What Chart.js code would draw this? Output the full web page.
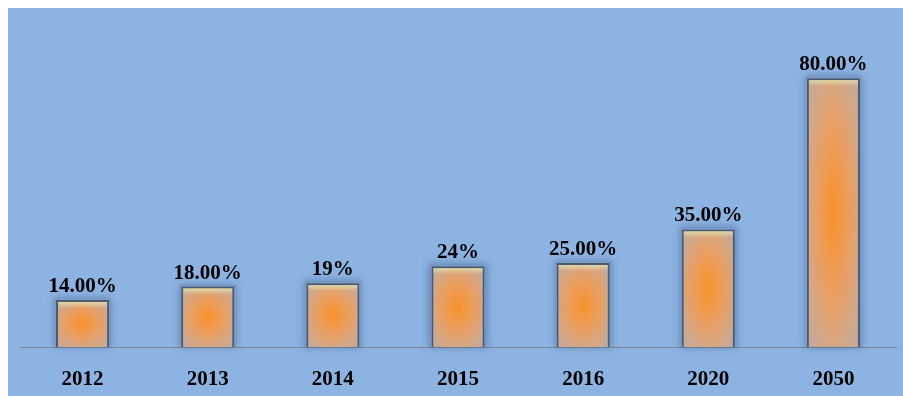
<!DOCTYPE html>
<html>
<head>
<meta charset="utf-8">
<script src="https://cdn.jsdelivr.net/npm/chart.js@4/dist/chart.umd.min.js"></script>
<style>
  html, body { margin: 0; padding: 0; background: #ffffff; }
  canvas { display: block; }
</style>
</head>
<body>
<canvas id="c" width="903" height="396"></canvas>
<script>
// Years shown along the bottom
const years = ['2012', '2013', '2014', '2015', '2016', '2020', '2050'];
// Share for each year, in percent
const shares = [14, 18, 19, 24, 25, 35, 80];
// Text printed above each bar
const shareLabels = ['14.00%', '18.00%', '19%', '24%', '25.00%', '35.00%', '80.00%'];

const LABEL_FONT = 'bold 21px "Liberation Serif", "Times New Roman", serif';

// Stretchable radial glow used as the bar fill (orange core fading to tan-grey)
const glowTile = document.createElement('canvas');
glowTile.width = 200; glowTile.height = 200;
(function () {
  const g = glowTile.getContext('2d');
  const rg = g.createRadialGradient(100, 100, 0, 100, 100, 142);
  rg.addColorStop(0.00, '#f7912a');
  rg.addColorStop(0.40, '#eb9e5e');
  rg.addColorStop(0.75, '#d2a88a');
  rg.addColorStop(1.00, '#bca9a2');
  g.fillStyle = rg;
  g.fillRect(0, 0, 200, 200);
})();

function barFill(context) {
  const chart = context.chart;
  const xs = chart.scales.x, ys = chart.scales.y;
  if (!xs || !ys || context.dataIndex === undefined) return '#eb9e5e';
  const ctx = chart.ctx;
  const pat = ctx.createPattern(glowTile, 'no-repeat');
  const cx = xs.getPixelForValue(context.dataIndex);
  const w = xs.width / years.length * 0.424;
  const top = ys.getPixelForValue(shares[context.dataIndex]);
  const bottom = ys.getPixelForValue(0);
  const h = Math.max(1, bottom - top);
  pat.setTransform(new DOMMatrix().translate(cx - w / 2, top).scale(w / 200, h / 200));
  return pat;
}

const backdrop = {
  id: 'backdrop',
  beforeDraw(chart) {
    const ctx = chart.ctx;
    ctx.save();
    ctx.fillStyle = '#ffffff';
    ctx.fillRect(0, 0, chart.width, chart.height);
    ctx.fillStyle = '#8db3e2';
    ctx.fillRect(8, 8, chart.width - 8, chart.height - 8);
    ctx.restore();
  }
};

// Soft bluish halo behind each bar
const halo = {
  id: 'halo',
  beforeDatasetsDraw(chart) {
    const ctx = chart.ctx;
    const meta = chart.getDatasetMeta(0);
    ctx.save();
    meta.data.forEach(bar => {
      const p = bar.getProps(['x', 'y', 'base', 'width'], true);
      ctx.shadowColor = 'rgba(45,75,125,0.5)';
      ctx.shadowBlur = 7;
      ctx.fillStyle = '#7a9ac6';
      ctx.fillRect(p.x - p.width / 2 - 2, p.y - 2, p.width + 4, p.base - p.y + 2);
    });
    ctx.restore();
  }
};

// Pale highlight under the top edge, plus the value labels
const barText = {
  id: 'barText',
  afterDatasetsDraw(chart) {
    const ctx = chart.ctx;
    const meta = chart.getDatasetMeta(0);
    ctx.save();
    meta.data.forEach((bar, i) => {
      const p = bar.getProps(['x', 'y', 'base', 'width'], true);
      const l = p.x - p.width / 2 + 2, r = p.x + p.width / 2 - 2;
      const lg = ctx.createLinearGradient(0, p.y + 2, 0, p.y + 8);
      lg.addColorStop(0, 'rgba(228,228,172,0.8)');
      lg.addColorStop(1, 'rgba(228,228,172,0)');
      ctx.fillStyle = lg;
      ctx.fillRect(l, p.y + 2, r - l, 6);

      ctx.fillStyle = '#000000';
      ctx.font = LABEL_FONT;
      ctx.textAlign = 'center';
      ctx.textBaseline = 'alphabetic';
      ctx.fillText(shareLabels[i], p.x, p.y - 8);
    });
    ctx.restore();
  }
};

new Chart(document.getElementById('c'), {
  type: 'bar',
  data: {
    labels: years,
    datasets: [{
      data: shares,
      backgroundColor: barFill,
      borderColor: '#4a5a70',
      borderWidth: { top: 2, left: 2, right: 2, bottom: 0 },
      borderSkipped: 'bottom',
      categoryPercentage: 1,
      barPercentage: 0.424
    }]
  },
  options: {
    responsive: false,
    animation: false,
    devicePixelRatio: 1,
    layout: { padding: { left: 20, right: 7, top: 11, bottom: 0 } },
    plugins: {
      legend: { display: false },
      tooltip: { enabled: false }
    },
    scales: {
      x: {
        grid: { display: false },
        border: { display: true, color: '#7d8791', width: 1 },
        ticks: {
          color: '#000000',
          padding: 12,
          font: { family: '"Liberation Serif", "Times New Roman", serif', size: 21, weight: 'bold' }
        },
        afterFit(scale) { scale.height = 49; }
      },
      y: {
        display: false,
        min: 0,
        max: 100
      }
    }
  },
  plugins: [backdrop, halo, barText]
});
</script>
</body>
</html>
